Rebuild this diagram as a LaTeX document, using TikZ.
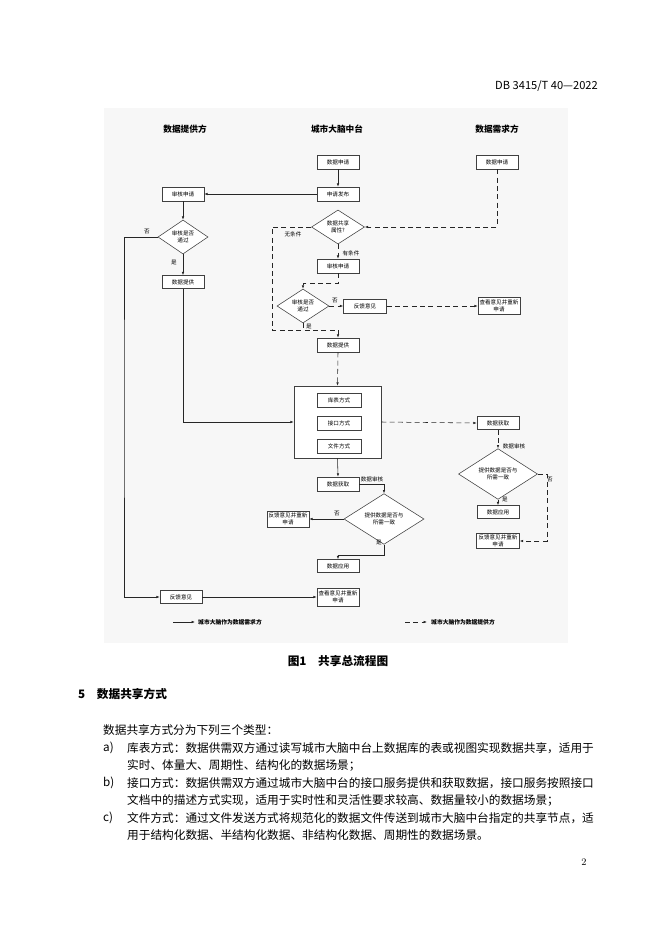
\documentclass[tikz,border=0pt]{standalone}
\usepackage{fontspec}
\newfontfamily\cjk{Noto Sans CJK SC}
\usetikzlibrary{arrows.meta,shapes.geometric}
\newcommand{\dgfont}{\cjk\fontsize{5}{6}\selectfont}
\begin{document}
\begin{tikzpicture}[x=0.9pt,y=-0.9pt,
  box/.style={draw=black!75,line width=0.5pt,fill=white,inner sep=0pt,align=center,font=\dgfont,minimum width=37.8pt,minimum height=12.6pt},
  dia/.style={diamond,draw=black!75,line width=0.5pt,fill=white,inner sep=0pt,align=center,font=\dgfont},
  lab/.style={font=\dgfont,inner sep=0pt},
  ln/.style={draw=black!85,line width=0.5pt},
  arr/.style={-{Latex[length=3pt,width=2.2pt]}},
  dsh/.style={dash pattern=on 4.5pt off 3pt},
  colhead/.style={font=\cjk\bfseries\fontsize{7.8}{9}\selectfont,inner sep=0pt},
  body/.style={font=\cjk\fontsize{10.5}{12}\selectfont,inner sep=0pt,anchor=west},
  legend/.style={font=\cjk\bfseries\fontsize{5.2}{6}\selectfont,inner sep=0pt,anchor=west},
]
\useasboundingbox[fill=white] (0,0) rectangle (662,936);

% page header
\node[font=\cjk\fontsize{10}{12}\selectfont,inner sep=0pt,anchor=east] (hdr) at (598,86) {DB 3415/T 40—2022};

% diagram background
\fill[black!3] (104,108) rectangle (568,643);

% column headings
\node[colhead] (h1) at (185,129) {数据提供方};
\node[colhead] (h2) at (337,129) {城市大脑中台};
\node[colhead] (h3) at (497,129) {数据需求方};

% middle column
\node[box] (m_req) at (338,162) {数据申请};
\node[box] (m_pub) at (338,194) {申请发布};
\node[dia,minimum width=47.7pt,minimum height=28.8pt] (m_d1) at (338,227) {数据共享\\属性?};
\node[box] (m_rev) at (338,266) {审核申请};
\node[dia,minimum width=46.8pt,minimum height=28.8pt] (m_d2) at (303,306) {审核是否\\通过};
\node[box,minimum width=38.7pt] (m_fb) at (365,306) {反馈意见};
\node[box] (m_prov) at (338,345) {数据提供};
\node[draw=black!75,line width=0.5pt,fill=white,minimum width=78.3pt,minimum height=64.8pt,inner sep=0pt] (bigbox) at (337.5,422) {};
\node[box,minimum width=39.6pt] (m_lib) at (339,400) {库表方式};
\node[box,minimum width=39.6pt] (m_api) at (339,423) {接口方式};
\node[box,minimum width=39.6pt] (m_file) at (339,446) {文件方式};
\node[box] (m_get) at (338,484) {数据获取};
\node[dia,minimum width=72pt,minimum height=30.6pt] (m_d3) at (384,519) {提供数据是否与\\所需一致};
\node[box,minimum height=14.4pt] (m_fb2) at (288,519) {反馈意见并重新\\申请};
\node[box,minimum height=11.7pt] (m_app) at (338,566) {数据应用};
\node[box,minimum height=16.2pt] (m_view) at (338,597) {查看意见并重新\\申请};

% left column
\node[box] (l_rev) at (183,194) {审核申请};
\node[dia,minimum width=45pt,minimum height=27.9pt] (l_d) at (183,237) {审核是否\\通过};
\node[box,minimum height=11.7pt] (l_prov) at (183,282) {数据提供};
\node[box,minimum height=11.7pt] (l_fb) at (181,597) {反馈意见};

% right column
\node[box] (r_req) at (497,162) {数据申请};
\node[box,minimum height=15.3pt] (r_view) at (499,306) {查看意见并重新\\申请};
\node[box,minimum height=11.7pt] (r_get) at (498,423) {数据获取};
\node[dia,minimum width=71.1pt,minimum height=29.7pt] (r_d) at (498,474) {提供数据是否与\\所需一致};
\node[box,minimum height=11.7pt] (r_app) at (498,512) {数据应用};
\node[box,minimum width=38.7pt,minimum height=13.5pt] (r_fb) at (498,541) {反馈意见并重新\\申请};

% helper coordinates
\coordinate (lx) at (124,400);
\coordinate (nw) at (272,330);

% solid connectors
\draw[ln,arr] (m_req) -- (m_pub);
\draw[ln,arr] (m_pub.west) -- (l_rev.east);
\draw[ln,arr] (l_rev) -- (l_d);
\draw[ln,arr] (l_d.south) -- (l_prov.north);
\draw[ln,arr] (l_d.west) -| (lx) |- (l_fb.west);
\draw[ln,arr] (l_prov.south) |- (bigbox.west);
\draw[ln,arr] (l_fb.east) -- (m_view.west);
\draw[ln,arr] (bigbox.south) -- (m_get.north);
\draw[ln,arr] (m_get.east) -| (m_d3.north);
\draw[ln,arr] (m_d3.west) -- (m_fb2.east);
\draw[ln,arr] (m_d3.south) -- ++(0,11) -| (m_app.north);

% dashed connectors
\draw[ln,dsh,arr] (r_req.south) |- (m_d1.east);
\draw[ln,dsh,arr] (m_d1.west) -| (nw) -| (m_prov.north);
\draw[ln,dsh,arr] (m_d1.south) -- (m_rev.north);
\draw[ln,dsh,arr] (m_rev.south) -- ++(0,10) -| (m_d2.north);
\draw[ln,dsh,arr] (m_d2.east) -- (m_fb.west);
\draw[ln,dsh] (m_d2.south) -- (m_d2.south |- nw);
\draw[ln,dsh,arr] (m_fb.east) -- (r_view.west);
\draw[ln,dsh,arr] (m_prov.south) -- (bigbox.north);
\draw[ln,dsh,arr] (bigbox.east) -- (r_get.west);
\draw[ln,dsh,arr] (r_get.south) -- (r_d.north);
\draw[ln,dsh,arr] (r_d.south) -- (r_app.north);
\draw[ln,dsh,arr] (r_d.east) -- ++(9,0) |- (r_fb.east);

% labels
\node[lab] (t1) at (147,232) {否};
\node[lab] (t2) at (174,263) {是};
\node[lab] (t3) at (293,234) {无条件};
\node[lab] (t4) at (351,253) {有条件};
\node[lab] (t5) at (335,301) {否};
\node[lab] (t6) at (309,326) {是};
\node[lab] (t7) at (372,479) {数据审核};
\node[lab] (t8) at (337,514) {否};
\node[lab] (t9) at (379,542) {是};
\node[lab] (t10) at (514,446) {数据审核};
\node[lab] (t11) at (505,499) {是};
\node[lab] (t12) at (550,480) {否};

% legend
\coordinate (lg1a) at (173,622);
\coordinate (lg1b) at (195,622);
\coordinate (lg2a) at (405,622);
\coordinate (lg2b) at (427,622);
\draw[ln,arr] (lg1a) -- (lg1b);
\draw[ln,dsh,arr] (lg2a) -- (lg2b);
\node[legend] (lgt1) at (198,622) {城市大脑作为数据需求方};
\node[legend] (lgt2) at (431,622) {城市大脑作为数据提供方};

% caption and text
\node[font=\cjk\bfseries\fontsize{10.5}{12}\selectfont,inner sep=0pt] (cap) at (338,661) {图1\hspace{1em}共享总流程图};
\node[font=\cjk\bfseries\fontsize{10.5}{12}\selectfont,inner sep=0pt,anchor=west] (sec) at (78,694) {5\hspace{1em}数据共享方式};
\node[body] (b0) at (103,730) {数据共享方式分为下列三个类型：};
\node[body] (ba) at (103,748) {a)};
\node[body] (ba1) at (127,748) {库表方式：数据供需双方通过读写城市大脑中台上数据库的表或视图实现数据共享，适用于};
\node[body] (ba2) at (127,765) {实时、体量大、周期性、结构化的数据场景；};
\node[body] (bb) at (103,783) {b)};
\node[body] (bb1) at (127,783) {接口方式：数据供需双方通过城市大脑中台的接口服务提供和获取数据，接口服务按照接口};
\node[body] (bb2) at (127,800) {文档中的描述方式实现，适用于实时性和灵活性要求较高、数据量较小的数据场景；};
\node[body] (bc) at (103,818) {c)};
\node[body] (bc1) at (127,818) {文件方式：通过文件发送方式将规范化的数据文件传送到城市大脑中台指定的共享节点，适};
\node[body] (bc2) at (127,835) {用于结构化数据、半结构化数据、非结构化数据、周期性的数据场景。};
\node[font=\fontsize{9}{10}\selectfont,inner sep=0pt] (pg) at (584,862) {2};
\end{tikzpicture}
\end{document}
